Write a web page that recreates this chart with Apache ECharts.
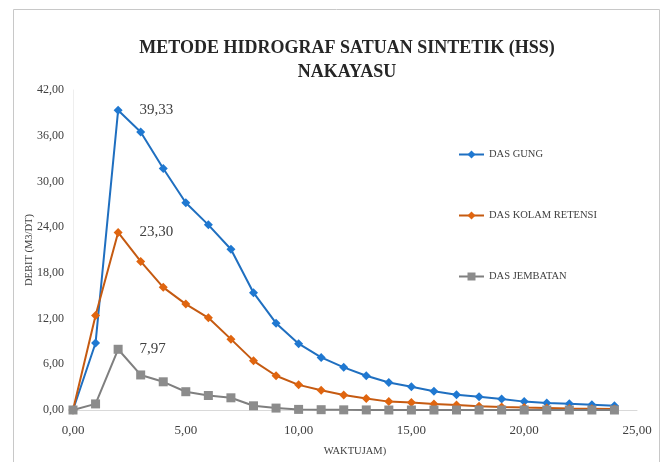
<!DOCTYPE html>
<html>
<head>
<meta charset="utf-8">
<script src="https://cdn.jsdelivr.net/npm/echarts@6/dist/echarts.min.js"></script>
<style>html,body{margin:0;padding:0;background:#fff}#c{width:662px;height:462px}</style>
</head>
<body>
<div id="c"></div>
<script>
const waktu = [0,1,2,3,4,5,6,7,8,9,10,11,12,13,14,15,16,17,18,19,20,21,22,23,24];
const dasGung = [0, 8.8, 39.33, 36.5, 31.7, 27.2, 24.3, 21.1, 15.4, 11.4, 8.7, 6.9, 5.6, 4.5, 3.6, 3.05, 2.45, 2.0, 1.74, 1.43, 1.1, 0.92, 0.83, 0.7, 0.57];
const dasKolam = [0, 12.4, 23.30, 19.5, 16.1, 13.9, 12.1, 9.3, 6.45, 4.5, 3.3, 2.6, 1.96, 1.5, 1.1, 1.0, 0.78, 0.65, 0.5, 0.4, 0.32, 0.26, 0.2, 0.16, 0.12];
const dasJembatan = [0, 0.8, 7.97, 4.6, 3.7, 2.4, 1.9, 1.6, 0.55, 0.25, 0.08, 0.04, 0.02, 0.01, 0, 0, 0, 0, 0, 0, 0, 0, 0, 0, 0];
const seriesNames = ['DAS GUNG', 'DAS KOLAM RETENSI', 'DAS JEMBATAN'];
const peakIndex = 2;

const fmt = v => v.toFixed(2).replace('.', ',');
const font = 'Liberation Serif';

function build(vals) {
  return vals.map((v, i) => {
    const item = { value: [waktu[i], v] };
    if (i === peakIndex) {
      item.label = { show: true, position: 'right', distance: 17, formatter: () => fmt(v),
        fontFamily: font, fontSize: 15, color: '#404040' };
    }
    return item;
  });
}

const chart = echarts.init(document.getElementById('c'));
chart.setOption({
  animation: false,
  backgroundColor: '#fff',
  graphic: [{ type: 'rect', shape: { x: 13.5, y: 9.5, width: 646, height: 470 }, style: { fill: 'none', stroke: '#c8c8c8', lineWidth: 1 }, z: -10 }],
  title: {
    text: 'METODE HIDROGRAF SATUAN SINTETIK (HSS)\nNAKAYASU',
    left: 342, top: 31, textAlign: 'center',
    textStyle: { fontFamily: font, fontWeight: 'bold', fontSize: 18, color: '#262626', lineHeight: 24 }
  },
  legend: {
    orient: 'vertical', left: 453, top: 144, itemGap: 50, itemWidth: 25, itemHeight: 10,
    textStyle: { fontFamily: font, fontSize: 10.5, color: '#404040' },
    data: seriesNames
  },
  grid: { left: 73, right: 25, top: 90, bottom: 51, containLabel: false },
  xAxis: {
    type: 'value', min: 0, max: 25, interval: 5,
    name: 'WAKTUJAM)', nameLocation: 'middle', nameGap: 36, nameMoveOverlap: false,
    nameTextStyle: { fontFamily: font, fontSize: 10.5, color: '#404040' },
    axisLine: { show: true, lineStyle: { color: '#d9d9d9' } },
    axisTick: { show: false }, splitLine: { show: false },
    axisLabel: { formatter: fmt, fontFamily: font, fontSize: 13, color: '#404040', margin: 14 }
  },
  yAxis: {
    type: 'value', min: 0, max: 42, interval: 6,
    name: 'DEBIT (M3/DT)', nameLocation: 'middle', nameGap: 38, nameMoveOverlap: false,
    nameTextStyle: { fontFamily: font, fontSize: 10.5, color: '#404040' },
    axisLine: { show: true, lineStyle: { color: '#eeeeee' } },
    axisTick: { show: false }, splitLine: { show: false },
    axisLabel: { formatter: fmt, fontFamily: font, fontSize: 12, color: '#404040', margin: 9 }
  },
  series: [
    { name: seriesNames[0], type: 'line', data: build(dasGung), symbol: 'diamond', symbolSize: 9,
      lineStyle: { color: '#1f6fc0', width: 2 }, itemStyle: { color: '#1f78d1' } },
    { name: seriesNames[1], type: 'line', data: build(dasKolam), symbol: 'diamond', symbolSize: 9,
      lineStyle: { color: '#c55a11', width: 2 }, itemStyle: { color: '#e0650f' } },
    { name: seriesNames[2], type: 'line', data: build(dasJembatan), symbol: 'rect', symbolSize: 9,
      lineStyle: { color: '#7f7f7f', width: 2 }, itemStyle: { color: '#8c8c8c' } }
  ]
});
</script>
</body>
</html>
